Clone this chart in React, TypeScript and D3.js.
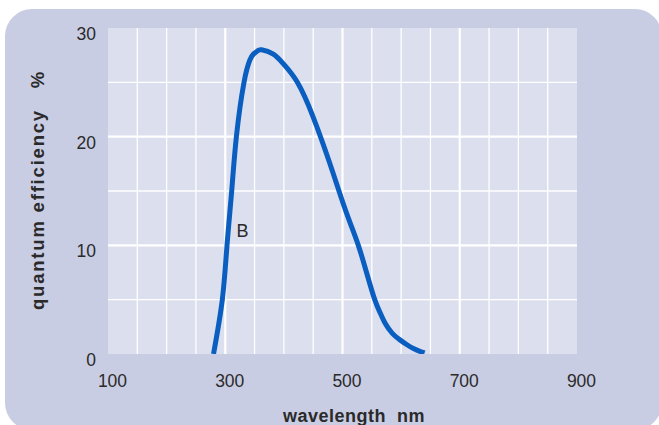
import React from "react";
import * as d3 from "d3";

const wavelength = [280, 295, 303, 311, 319, 332, 342, 348, 355, 362, 382, 400, 423, 450, 478, 494, 510, 527, 541, 555, 565, 573, 585, 598, 610, 621, 632, 640];
const efficiency = [0, 5, 10, 15, 20, 25, 27.05, 27.6, 27.9, 28, 27.6, 26.65, 25, 21.8, 17.6, 15, 12.5, 10, 7.5, 5, 3.7, 2.8, 1.9, 1.3, 0.85, 0.5, 0.25, 0.1];
const xTicks = [100, 300, 500, 700, 900];
const yTicks = [0, 10, 20, 30];
const xGrid = [150, 200, 250, 300, 350, 400, 450, 500, 550, 600, 650, 700, 750, 800, 850];
const yGrid = [5, 10, 15, 20, 25];
const curveLabel = "B";
const xTitle = "wavelength  nm";
const yTitle = "quantum efficiency   %";

export default function App() {
  const W = 659, H = 425;
  const left = 108, right = 577, top = 28, bottom = 354;
  const x = d3.scaleLinear().domain([100, 900]).range([left, right]);
  const y = d3.scaleLinear().domain([0, 30]).range([bottom, top]);
  const pts = wavelength.map((w, i) => [w, efficiency[i]] as [number, number]);
  const line = d3.line<[number, number]>().x(d => x(d[0])).y(d => y(d[1])).curve(d3.curveNatural);
  const font = "'Liberation Sans', Arial, sans-serif";
  const textCol = "#2a2a2a";
  return (
    <div style={{ position: "absolute", left: 0, top: 0 }}>
      <svg width={W} height={H} style={{ display: "block" }}>
        <rect width={W} height={H} fill="#ffffff" />
        <rect x={5} y={9} width={657} height={421} rx={27} ry={27} fill="#c9cde3" />
        <defs>
          <clipPath id="plotclip">
            <rect x={left} y={top} width={right - left} height={bottom - top} />
          </clipPath>
        </defs>
        <rect x={left} y={top} width={right - left} height={bottom - top} fill="#dcdfee" />
        {xGrid.map(v => (
          <line key={"gx" + v} x1={x(v)} x2={x(v)} y1={top} y2={bottom} stroke="#ffffff"
            strokeWidth={xTicks.includes(v) ? 2.2 : 1.3} />
        ))}
        {yGrid.map(v => (
          <line key={"gy" + v} x1={left} x2={right} y1={y(v)} y2={y(v)} stroke="#ffffff"
            strokeWidth={yTicks.includes(v) ? 2.2 : 1.3} />
        ))}
        <path d={line(pts) || ""} fill="none" stroke="#0a5ec0" strokeWidth={5} clipPath="url(#plotclip)" />
        <text x={236.5} y={236.5} fontFamily={font} fontSize={18} fill={textCol}>{curveLabel}</text>
        {yTicks.map(v => (
          <text key={"ty" + v} x={96} y={y(v) + 12} textAnchor="end" fontFamily={font} fontSize={17.5} fill={textCol}>{v}</text>
        ))}
        {xTicks.map(v => (
          <text key={"tx" + v} x={x(v) + 4.5} y={387.3} textAnchor="middle" fontFamily={font} fontSize={17.5} fill={textCol}>{v}</text>
        ))}
        <text x={354} y={421.7} textAnchor="middle" fontFamily={font} fontSize={18} fontWeight="bold"
          letterSpacing={0.5} fill={textCol} style={{ whiteSpace: "pre" }}>{xTitle}</text>
        <text transform={`translate(44,190) rotate(-90)`} textAnchor="middle" fontFamily={font} fontSize={18.5}
          fontWeight="bold" letterSpacing={1.8} fill={textCol} style={{ whiteSpace: "pre" }}>{yTitle}</text>
      </svg>
    </div>
  );
}
